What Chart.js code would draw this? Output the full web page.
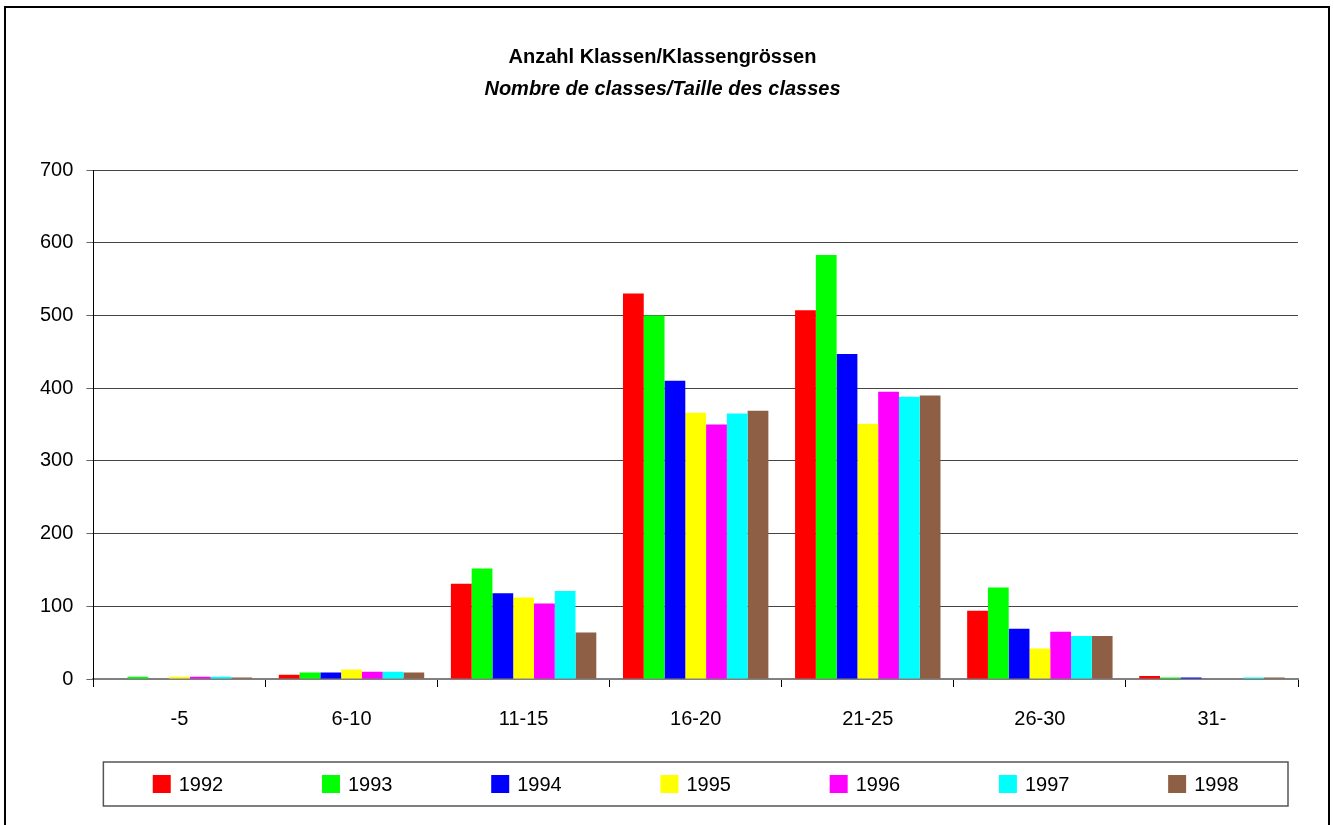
<!DOCTYPE html>
<html>
<head>
<meta charset="utf-8">
<style>
  html, body { margin: 0; padding: 0; background: #fff; }
  #frame { position: absolute; left: 4px; top: 6px; width: 1322px; height: 830px; border: 2px solid #000; }
  #wrap { position: absolute; left: 0; top: 0; width: 1334px; height: 825px; }
</style>
</head>
<body>
<div id="frame"></div>
<div id="wrap"><canvas id="myChart" width="1334" height="825"></canvas></div>

<script src="https://cdn.jsdelivr.net/npm/chart.js@4.4.2/dist/chart.umd.min.js"></script>
<script>
  const FONT = "'Liberation Sans', Arial, sans-serif";

  // class size categories
  const categories = ['-5', '6-10', '11-15', '16-20', '21-25', '26-30', '31-'];
  const years = ['1992', '1993', '1994', '1995', '1996', '1997', '1998'];
  const colors = ['#ff0000', '#00ff00', '#0000ff', '#ffff00', '#ff00ff', '#00ffff', '#8f5f45'];

  // number of classes per size, one array per year
  const v1992 = [0, 6, 131, 530, 507, 94, 4];
  const v1993 = [3, 9, 152, 500, 583, 126, 2];
  const v1994 = [0, 9, 118, 410, 447, 69, 2];
  const v1995 = [3, 13, 112, 366, 351, 42, 0];
  const v1996 = [3, 10, 104, 350, 395, 65, 0];
  const v1997 = [3, 10, 121, 365, 388, 59, 2];
  const v1998 = [2, 9, 64, 369, 390, 59, 2];
  const series = [v1992, v1993, v1994, v1995, v1996, v1997, v1998];

  const yTicks = [0, 100, 200, 300, 400, 500, 600, 700];

  // legend drawn in a framed box below the x axis, items in equal slots
  const boxLegend = {
    id: 'boxLegend',
    afterDraw(chart) {
      const c = chart.ctx;
      const area = chart.chartArea;
      const left = area.left + 10, right = area.right - 10;
      const top = area.bottom + 83, h = 44;
      c.save();
      c.strokeStyle = '#555';
      c.lineWidth = 1.5;
      c.strokeRect(left, top, right - left, h);
      c.font = '20px ' + FONT;
      c.textBaseline = 'middle';
      const slot = (right - left) / chart.data.datasets.length;
      chart.data.datasets.forEach((ds, i) => {
        const tw = c.measureText(ds.label).width;
        const w = 18 + 8 + tw;
        const x0 = left + slot * i + (slot - w) / 2;
        const cy = top + h / 2;
        c.fillStyle = ds.backgroundColor;
        c.fillRect(x0, cy - 9, 18, 18);
        c.fillStyle = '#000';
        c.fillText(ds.label, x0 + 26, cy + 1);
      });
      c.restore();
    }
  };

  const ctx = document.getElementById('myChart');
  const myChart = new Chart(ctx, {
    type: 'bar',
    data: {
      labels: categories,
      datasets: years.map((y, i) => ({
        label: y,
        data: series[i],
        backgroundColor: colors[i],
        borderWidth: 0,
        barPercentage: 1,
        categoryPercentage: 0.845
      }))
    },
    options: {
      responsive: false,
      animation: false,
      devicePixelRatio: 1,
      layout: { padding: { left: 27, right: 36, top: 0, bottom: 74 } },
      plugins: {
        legend: { display: false },
        tooltip: { enabled: false },
        title: {
          display: true,
          text: 'Anzahl Klassen/Klassengrössen',
          color: '#000',
          font: { family: FONT, size: 20, weight: 'bold' },
          padding: { top: 45, bottom: 0 }
        },
        subtitle: {
          display: true,
          text: 'Nombre de classes/Taille des classes',
          color: '#000',
          font: { family: FONT, size: 20, weight: 'bold', style: 'italic' },
          padding: { top: 8, bottom: 69 }
        }
      },
      scales: {
        x: {
          grid: { offset: true, drawOnChartArea: false, color: '#000', tickLength: 8, lineWidth: 1 },
          border: { color: '#808080', width: 2 },
          ticks: { color: '#000', padding: 20, font: { family: FONT, size: 20 } }
        },
        y: {
          min: 0,
          max: 700,
          afterBuildTicks(axis) { axis.ticks = yTicks.map(v => ({ value: v })); },
          grid: { color: '#444', lineWidth: 1, tickLength: 7, tickColor: '#666' },
          border: { color: '#000', width: 1 },
          ticks: { color: '#000', padding: 13, font: { family: FONT, size: 20 } }
        }
      }
    },
    plugins: [boxLegend]
  });
</script>
</body>
</html>
